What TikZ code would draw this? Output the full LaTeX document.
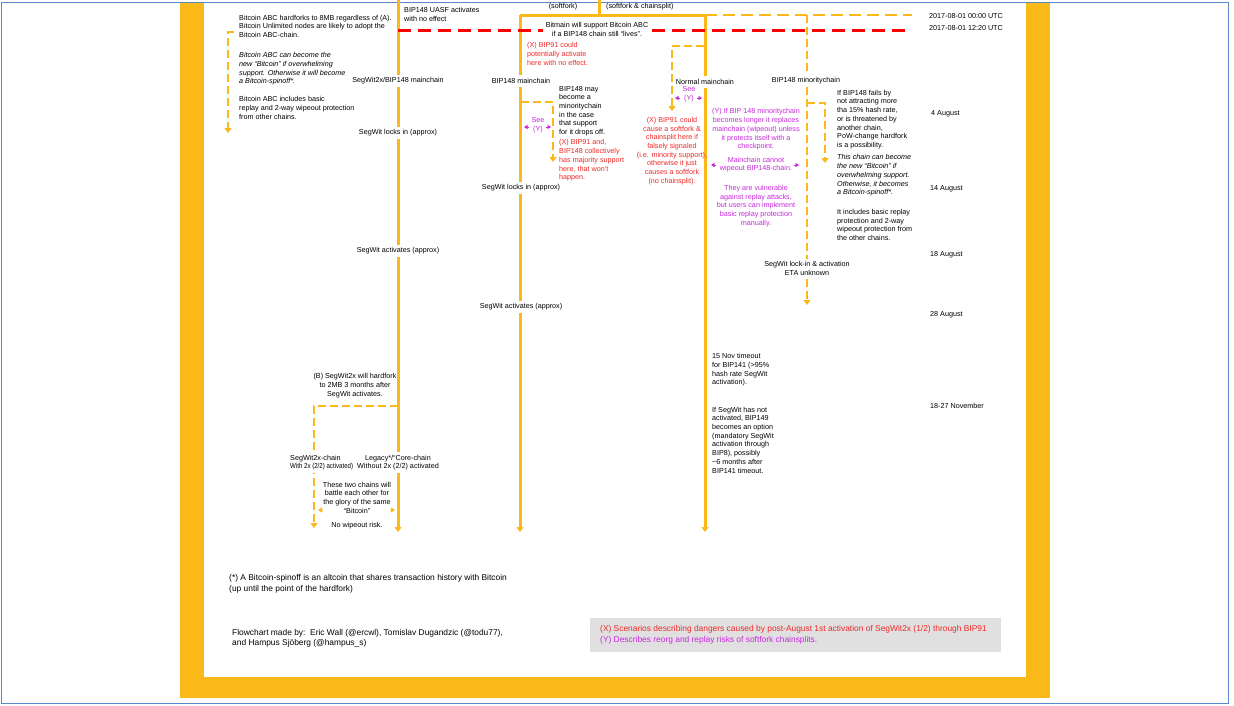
\documentclass[tikz,border=0pt]{standalone}
\usepackage{fontspec}
\setmainfont{Liberation Sans}
\usetikzlibrary{arrows.meta}
\definecolor{org}{RGB}{250,185,25}
\definecolor{redl}{RGB}{255,0,0}
\definecolor{redt}{RGB}{240,40,40}
\definecolor{mag}{RGB}{200,40,220}
\definecolor{bluel}{RGB}{90,135,200}
\definecolor{grayb}{RGB}{224,224,224}
\begin{document}
\begin{tikzpicture}[x=1pt,y=-1pt,
  txt/.style={inner sep=0pt,align=left,anchor=west,font=\fontsize{7.2}{8.7}\selectfont},
  ctxt/.style={inner sep=0pt,align=center,anchor=center,font=\fontsize{7.2}{8.7}\selectfont},
  lbl/.style={ctxt,fill=white,inner xsep=1.5pt,inner ysep=3pt},
  orgline/.style={draw=org,line width=3pt},
  orgdash/.style={draw=org,line width=2.6pt,dash pattern=on 8pt off 4pt},
  orgdashh/.style={draw=org,line width=2.6pt,dash pattern=on 12pt off 6pt},
  reddash/.style={draw=redl,line width=2.6pt,dash pattern=on 13pt off 7pt},
  tip/.style={-{Triangle[width=7pt,length=5pt]}},
  marr/.style={draw=mag,line width=0.8pt,-{Triangle[width=4pt,length=3.5pt]}},
  oarr/.style={draw=org,line width=1pt,-{Triangle[width=5pt,length=4pt]}},
  foottxt/.style={txt,font=\fontsize{8.4}{11}\selectfont}]
\useasboundingbox (0,0) rectangle (1234,705);
% frame
\fill[white] (0,0) rectangle (1234,705);
\fill[org] (180,3) rectangle (204,698);
\fill[org] (1026,3) rectangle (1050,698);
\fill[org] (180,677) rectangle (1050,698);
\draw[bluel,line width=1pt] (1.5,2.5) rectangle (1228,703);
% coordinates
\coordinate (a0) at (398,0);
\coordinate (a1) at (398,406);
\coordinate (aE) at (398,532);
\coordinate (t0) at (599,0);
\coordinate (t1) at (599,15);
\coordinate (h0) at (520,15);
\coordinate (h1) at (705,15);
\coordinate (h2) at (807,15);
\coordinate (h3) at (912,15);
\coordinate (bE) at (520,532);
\coordinate (cE) at (705,532);
\coordinate (dE) at (807,305);
\coordinate (r0) at (398,30.5);
\coordinate (r1) at (543,30.5);
\coordinate (r2) at (652,30.5);
\coordinate (r3) at (912,30.5);
% brackets
\coordinate (k1a) at (234,32); \coordinate (k1b) at (228,32); \coordinate (k1c) at (228,133);
\coordinate (k2a) at (521,102); \coordinate (k2b) at (553,102); \coordinate (k2c) at (553,162);
\coordinate (k3a) at (704,46); \coordinate (k3b) at (672,46); \coordinate (k3c) at (672,111);
\coordinate (k4a) at (807,103); \coordinate (k4b) at (825,103); \coordinate (k4c) at (825,163);
\coordinate (k5b) at (314,406); \coordinate (k5c) at (314,528);
% lines
\draw[orgline,tip] (a0) -- (aE);
\draw[orgline] (t0) -- (t1);
\draw[orgline] (h0) -- (h1);
\draw[orgdashh] (h1) -- (h3);
\draw[orgline,tip] (h0) -- (bE);
\draw[orgline,tip] (h1) -- (cE);
\draw[orgdash,tip] (h2) -- (dE);
\draw[reddash] (r0) -- (r1);
\draw[reddash] (r2) -- (r3);
\draw[orgdash,line width=2pt,tip] (k1a) -- (k1b) -- (k1c);
\draw[orgdash,tip] (k2a) -- (k2b) -- (k2c);
\draw[orgdash,tip] (k3a) -- (k3b) -- (k3c);
\draw[orgdash,tip] (k4a) -- (k4b) -- (k4c);
\draw[orgdash,tip] (a1) -- (k5b) -- (k5c);
% small arrows
\coordinate (m1a) at (529,127); \coordinate (m1b) at (524,127);
\coordinate (m1c) at (546,127); \coordinate (m1d) at (551,127);
\coordinate (m2a) at (680,98); \coordinate (m2b) at (675,98);
\coordinate (m2c) at (697,98); \coordinate (m2d) at (702,98);
\coordinate (m3a) at (716,165); \coordinate (m3b) at (711,165);
\coordinate (m3c) at (794,165); \coordinate (m3d) at (799,165);
\coordinate (o1a) at (323,510); \coordinate (o1b) at (318,510);
\coordinate (o1c) at (390,510); \coordinate (o1d) at (395,510);
\draw[marr] (m1a) -- (m1b); \draw[marr] (m1c) -- (m1d);
\draw[marr] (m2a) -- (m2b); \draw[marr] (m2c) -- (m2d);
\draw[marr] (m3a) -- (m3b); \draw[marr] (m3c) -- (m3d);
\draw[oarr] (o1a) -- (o1b); \draw[oarr] (o1c) -- (o1d);
% texts left
\node[txt] (abc1) at (239,26.3) {Bitcoin ABC hardforks to 8MB regardless of (A).\\Bitcoin Unlimited nodes are likely to adopt the\\Bitcoin ABC-chain.};
\node[txt,font=\fontsize{7.2}{8.7}\selectfont\itshape] (abc2) at (239,69) {Bitcoin ABC can become the\\new “Bitcoin” if overwhelming\\support. Otherwise it will become\\a Bitcoin-spinoff*.};
\node[txt] (abc3) at (239,108) {Bitcoin ABC includes basic\\replay and 2-way wipeout protection\\from other chains.};
\node[txt] (uasf) at (404,14.5) {BIP148 UASF activates\\with no effect};
\node[ctxt] (sf) at (563,6.5) {(softfork)};
\node[txt] (sfc) at (606,6.5) {(softfork \& chainsplit)};
\node[ctxt] (bitmain) at (597,29.5) {Bitmain will support Bitcoin ABC\\if a BIP148 chain still “lives”.};
\node[txt] (d1) at (929,16) {2017-08-01 00:00 UTC};
\node[txt] (d2) at (929,28) {2017-08-01 12:20 UTC};
\node[txt,text=redt] (x1) at (527,54) {(X) BIP91 could\\potentially activate\\here with no effect.};
% chain labels
\node[lbl] (l1) at (398,81) {SegWit2x/BIP148 mainchain};
\node[lbl] (l2) at (521,81) {BIP148 mainchain};
\node[lbl] (l3) at (705,82) {Normal mainchain};
\node[lbl] (l4) at (806,81) {BIP148 minoritychain};
\node[lbl] (s1) at (398,133) {SegWit locks in (approx)};
\node[lbl] (s2) at (398,251) {SegWit activates (approx)};
\node[lbl] (s3) at (521,188) {SegWit locks in (approx)};
\node[lbl] (s4) at (521,307) {SegWit activates (approx)};
\node[lbl] (s5) at (807,268.5) {SegWit lock-in \& activation\\ETA unknown};
% middle texts
\node[ctxt,text=mag] (see1) at (538,125) {See\\(Y)};
\node[ctxt,text=mag] (see2) at (689,94) {See\\(Y)};
\node[txt] (may) at (559,111) {BIP148 may\\become a\\minoritychain\\in the case\\that support\\for it drops off.};
\node[txt,text=redt] (x2) at (559,160.5) {(X) BIP91 and,\\BIP148 collectively\\has majority support\\here, that won’t\\happen.};
\node[ctxt,text=redt] (x3) at (672,151) {(X) BIP91 could\\cause a softfork \&\\chainsplit here if\\falsely signaled\\(i.e. minority support),\\otherwise it just\\causes a softfork\\(no chainsplit).};
\node[ctxt,text=mag] (y1) at (756,129.5) {(Y) If BIP 148 minoritychain\\becomes longer it replaces\\mainchain (wipeout) unless\\it protects itself with a\\checkpoint.};
\node[ctxt,text=mag] (y2) at (756,164.5) {Mainchain cannot\\wipeout BIP148-chain.};
\node[ctxt,text=mag] (y3) at (756,206) {They are vulnerable\\against replay attacks,\\but users can implement\\basic replay protection\\manually.};
% right texts
\node[txt] (r148) at (837,119.5) {If BIP148 fails by\\not attracting more\\tha 15\% hash rate,\\or is threatened by\\another chain,\\PoW-change hardfork\\is a possibility.};
\node[txt,font=\fontsize{7.2}{8.7}\selectfont\itshape] (rit) at (837,175.5) {This chain can become\\the new “Bitcoin” if\\overwhelming support.\\Otherwise, it becomes\\a Bitcoin-spinoff*.};
\node[txt] (rinc) at (837,225) {It includes basic replay\\protection and 2-way\\wipeout protection from\\the other chains.};
\node[txt] (aug4) at (931,114) {4 August};
\node[txt] (aug14) at (930,189) {14 August};
\node[txt] (aug18) at (930,255) {18 August};
\node[txt] (aug28) at (930,315) {28 August};
\node[txt] (nov) at (930,406) {18-27 November};
\node[txt] (nov15) at (712,370) {15 Nov timeout\\for BIP141 (>95\%\\hash rate SegWit\\activation).};
\node[txt] (b149) at (712,440) {If SegWit has not\\activated, BIP149\\becomes an option\\(mandatory SegWit\\activation through\\BIP8), possibly\\\textasciitilde6 months after\\BIP141 timeout.};
% bottom-left texts
\node[ctxt] (hf) at (355,385.5) {(B) SegWit2x will hardfork\\to 2MB 3 months after\\SegWit activates.};
\node[txt,fill=white,inner xsep=1pt,inner ysep=3pt] (c2x) at (289,462.5) {SegWit2x-chain\\\scalebox{0.85}[1]{With 2x (2/2) activated)}};
\node[lbl] (cleg) at (398,462.5) {Legacy*/“Core-chain\\Without 2x (2/2) activated};
\node[ctxt] (battle) at (357,497.5) {These two chains will\\battle each other for\\the glory of the same\\“Bitcoin”};
\node[ctxt] (nowipe) at (357,526) {No wipeout risk.};
% footer
\node[foottxt] (foot) at (229,583.5) {(*) A Bitcoin-spinoff is an altcoin that shares transaction history with Bitcoin\\(up until the point of the hardfork)};
\node[foottxt,font=\fontsize{8.4}{10}\selectfont] (cred) at (232,638) {Flowchart made by:\ \ Eric Wall (@ercwl), Tomislav Dugandzic (@todu77),\\and Hampus Sjöberg (@hampus\_s)};
\fill[grayb] (590,618) rectangle (1001,652);
\node[foottxt,text=redt] (legx) at (600,629) {(X) Scenarios describing dangers caused by post-August 1st activation of SegWit2x (1/2) through BIP91};
\node[foottxt,text=mag] (legy) at (600,640) {(Y) Describes reorg and replay risks of softfork chainsplits.};
\end{tikzpicture}
\end{document}
